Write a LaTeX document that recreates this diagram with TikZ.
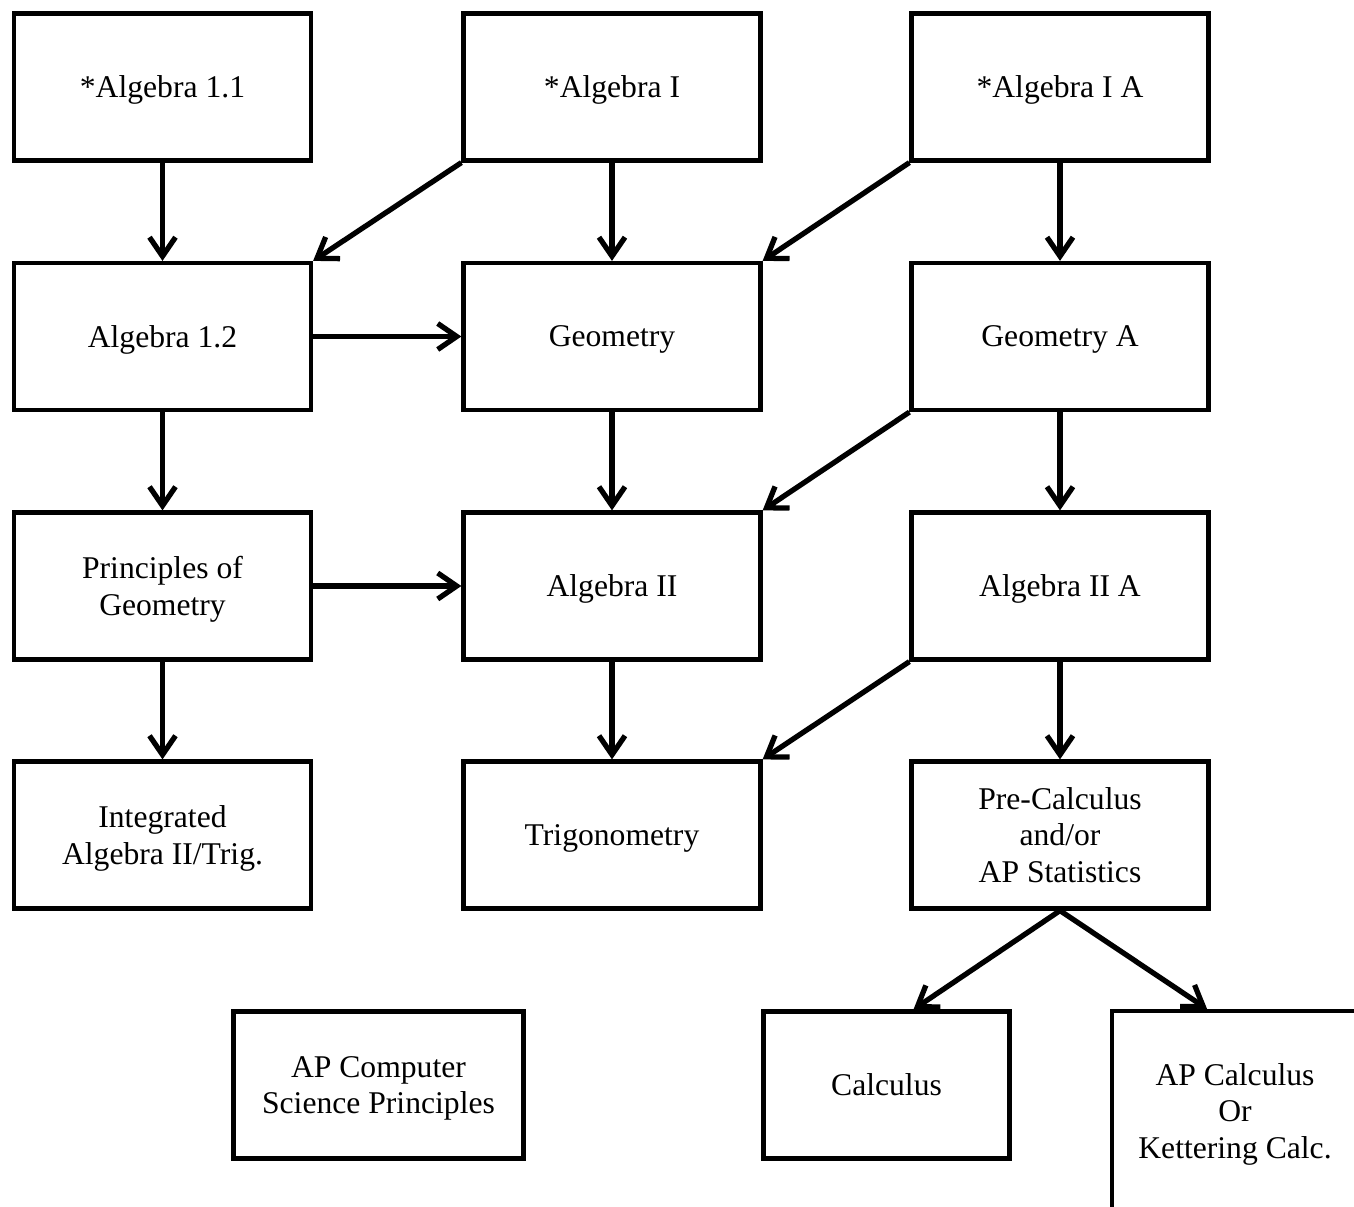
\documentclass[tikz,border=0pt]{standalone}
\usepackage{fontspec}
\setmainfont{Liberation Serif}
\usetikzlibrary{arrows.meta}

\begin{document}
\begin{tikzpicture}[
    boite/.style={draw, line width=1.2pt, minimum width=2.97cm, minimum height=1.47cm, inner sep=0pt, text depth=0pt, align=center, font=\fontsize{9}{10.5}\selectfont},
    fleche/.style={line width=1.5pt, -{Straight Barb[length=0.19cm, width=0.26cm]}}]
            \useasboundingbox (0, 0) rectangle (13.54, -12.07); %cadre

            \node[boite] (alg11) at (1.625, -0.87) {*Algebra 1.1}; %ligne 1
            \node[boite] (alg1) at (6.12, -0.87) {*Algebra I};
            \node[boite] (alg1a) at (10.6, -0.87) {*Algebra I A};

            \node[boite] (alg12) at (1.625, -3.365) {Algebra 1.2}; %ligne 2
            \node[boite] (geo) at (6.12, -3.365) {Geometry};
            \node[boite] (geoa) at (10.6, -3.365) {Geometry A};

            \node[boite] (prgeo) at (1.625, -5.86) {Principles of\\Geometry}; %ligne 3
            \node[boite] (alg2) at (6.12, -5.86) {Algebra II};
            \node[boite] (alg2a) at (10.6, -5.86) {Algebra II A};

            \node[boite] (integ) at (1.625, -8.35) {Integrated\\Algebra II/Trig.}; %ligne 4
            \node[boite] (trig) at (6.12, -8.35) {Trigonometry};
            \node[boite] (precalc) at (10.6, -8.35) {Pre-Calculus\\and/or\\AP Statistics};

            \node[boite, minimum width=2.9cm] (apcs) at (3.785, -10.85) {AP Computer\\Science Principles}; %ligne 5
            \node[boite, minimum width=2.46cm] (calc) at (8.865, -10.85) {Calculus};
            \node[boite, minimum width=2.46cm, minimum height=2.0cm] (apcalc) at (12.35, -11.11) {AP Calculus\\Or\\Kettering Calc.}; %coupee

            \draw[fleche] (alg11) -- (alg12); %verticales
            \draw[fleche] (alg1) -- (geo);
            \draw[fleche] (alg1a) -- (geoa);
            \draw[fleche] (alg12) -- (prgeo);
            \draw[fleche] (geo) -- (alg2);
            \draw[fleche] (geoa) -- (alg2a);
            \draw[fleche] (prgeo) -- (integ);
            \draw[fleche] (alg2) -- (trig);
            \draw[fleche] (alg2a) -- (precalc);

            \draw[fleche] (alg1.south west) -- (alg12.north east); %diagonales
            \draw[fleche] (alg1a.south west) -- (geo.north east);
            \draw[fleche] (geoa.south west) -- (alg2.north east);
            \draw[fleche] (alg2a.south west) -- (trig.north east);

            \draw[fleche] (alg12) -- (geo); %horizontales
            \draw[fleche] (prgeo) -- (alg2);

            \draw[fleche] (precalc.south) -- ([xshift=0.27cm]calc.north); %vers le bas
            \draw[fleche] (precalc.south) -- ([xshift=-0.28cm]apcalc.north);
\end{tikzpicture}
\end{document}
